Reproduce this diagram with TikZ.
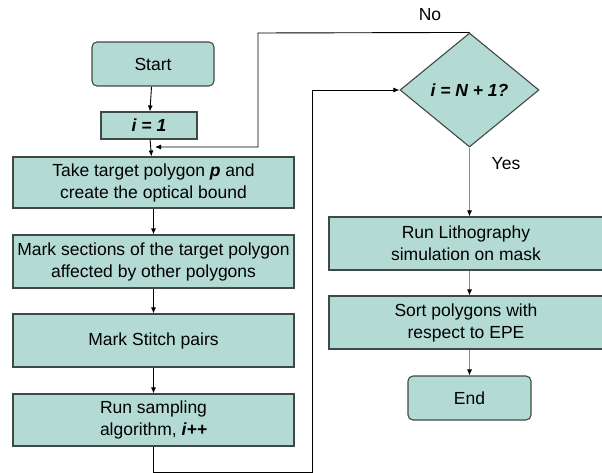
\documentclass[tikz,border=0pt]{standalone}
\usepackage{fontspec}
\setmainfont{Liberation Sans}
\usetikzlibrary{shapes.geometric,arrows.meta,positioning}

\definecolor{boxfill}{HTML}{B3DBD4}
\definecolor{boxline}{HTML}{3F4A48}
\definecolor{flowgray}{HTML}{8A8A8A}

\tikzset{
  stepbox/.style={draw=boxline, fill=boxfill, line width=1.1pt, align=center,
    font=\fontsize{17.5}{22}\selectfont, inner sep=0pt},
  termbox/.style={stepbox, rounded corners=5pt},
  decision/.style={stepbox, diamond, inner sep=0pt},
  flow/.style={-{Latex[length=6pt,width=5pt]}, line width=0.9pt},
  grayflow/.style={-{Latex[length=6pt,width=5pt,color=black]}, line width=0.9pt, draw=flowgray}
}

\begin{document}
\begin{tikzpicture}[x=1pt, y=-1pt]
  \useasboundingbox (0,0) rectangle (602,473);

  % left column
  \node[termbox, minimum width=122pt, minimum height=44pt] (start) at (153,64) {Start};
  \node[stepbox, minimum width=96pt, minimum height=27pt] (init) at (149,125.5) {\textbf{\textit{i = 1}}};
  \node[stepbox, minimum width=281pt, minimum height=51pt] (take) at (153.5,182.5)
    {Take target polygon \textbf{\textit{p}} and\\create the optical bound};
  \node[stepbox, minimum width=281pt, minimum height=53pt] (mark) at (153.5,261.5)
    {Mark sections of the target polygon\\affected by other polygons};
  \node[stepbox, minimum width=281pt, minimum height=53pt] (stitch) at (153.5,340.5)
    {Mark Stitch pairs};
  \node[stepbox, minimum width=281pt, minimum height=52pt] (samp) at (153.5,420)
    {Run sampling\\algorithm, \textbf{\textit{i++}}};

  % right column
  \node[decision, minimum width=139pt, minimum height=114pt, aspect=1.22] (check) at (469.5,90)
    {\textbf{\textit{i = N + 1?}}};
  \node[stepbox, minimum width=274pt, minimum height=53pt] (litho) at (466,243.5)
    {Run Lithography\\simulation on mask};
  \node[stepbox, minimum width=274pt, minimum height=53pt] (sort) at (466,322.5)
    {Sort polygons with\\respect to EPE};
  \node[termbox, minimum width=123pt, minimum height=44pt] (end) at (469.5,398) {End};

  \node[font=\fontsize{17.5}{20}\selectfont] (nolbl) at (430,15) {No};
  \node[font=\fontsize{17.5}{20}\selectfont] (yeslbl) at (506,164) {Yes};

  \coordinate (merge) at (155,147);
  \coordinate (nocorner) at (258,33);

  \draw[flow] (start) -- (init);
  \draw[flow] (init) -- (take);
  \draw[flow] (take) -- (mark);
  \draw[flow] (mark) -- (stitch);
  \draw[flow] (stitch) -- (samp);
  \draw[flow] (samp.south) |- (312,472) |- (check.west);
  \draw[flow] (check.north) -- (nocorner) |- (merge);

  \draw[grayflow] (check.south) -- (litho.north -| check.south);
  \draw[grayflow] (litho.south -| check.south) -- (sort.north -| check.south);
  \draw[grayflow] (sort.south -| check.south) -- (end);
\end{tikzpicture}
\end{document}
